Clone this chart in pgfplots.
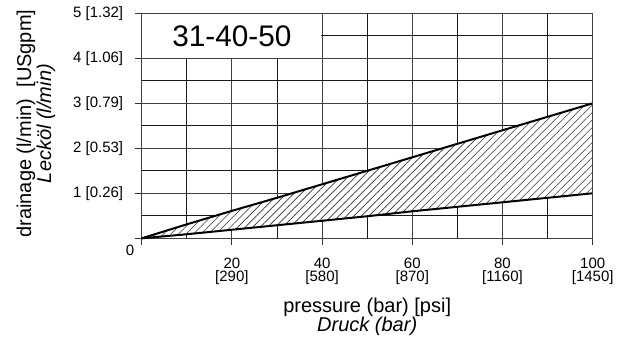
\documentclass[border=0pt]{standalone}
\usepackage{fontspec}
\setmainfont{Liberation Sans}
\usepackage{pgfplots}
\pgfplotsset{compat=1.18}
\usepgfplotslibrary{fillbetween}
\usetikzlibrary{patterns.meta}

\pgfplotstableread{
p    hi    lo
0    0.00  0.00
10   0.31  0.09
20   0.61  0.19
30   0.90  0.29
40   1.20  0.39
50   1.50  0.49
60   1.80  0.60
70   2.10  0.70
80   2.40  0.80
90   2.70  0.90
100  3.00  1.00
}\leakage

\begin{document}
\begin{tikzpicture}
\begin{axis}[
  at={(0pt,0pt)}, anchor=south west,
  scale only axis, width=451pt, height=225pt,
  clip=false,
  xmin=0, xmax=100, ymin=0, ymax=5,
  xtick={0,20,...,100}, minor xtick={10,30,50,70,90},
  ytick={0,1,...,5}, minor ytick={0.5,1.5,...,4.5},
  xticklabels={,{20\\{[290]}},{40\\{[580]}},{60\\{[870]}},{80\\{[1160]}},{100\\{[1450]}}},
  yticklabels={,1 [0.26],2 [0.53],3 [0.79],4 [1.06],5 [1.32]},
  tick pos=left, tick align=outside,
  major tick length=7pt, minor tick length=0pt,
  every tick/.style={black!80, line width=0.9pt},
  grid=both,
  major grid style={black!75, line width=0.95pt},
  minor grid style={black!90, line width=0.8pt},
  axis line style={black!75, line width=0.95pt},
  xticklabel style={align=center, yshift=-9pt, font=\fontsize{15}{13.5}\selectfont},
  yticklabel style={xshift=-8pt, font=\fontsize{15}{15}\selectfont},
  xlabel={pressure (bar) [psi]\\\textit{Druck (bar)}},
  xlabel style={at={(axis description cs:0.5,-0.35)}, anchor=center, align=center,
    font=\fontsize{20}{19}\selectfont},
  ylabel={drainage (l/min)\ \ [USgpm]\\\textit{Lecköl (l/min)}},
  ylabel style={at={(axis description cs:-0.2344,0.51)}, anchor=center, align=center,
    font=\fontsize{20}{20}\selectfont},
]
\addplot[name path=hi, draw=none, forget plot] table[x=p, y=hi] {\leakage};
\addplot[name path=lo, draw=none, forget plot] table[x=p, y=lo] {\leakage};
\addplot[fill=white, draw=none] fill between[of=hi and lo];
\addplot[pattern={Lines[angle=45, distance=5.3pt, line width=0.6pt]},
  pattern color=black!80, draw=none] fill between[of=hi and lo];
\addplot[black, line width=2pt] table[x=p, y=hi] {\leakage};
\addplot[black, line width=2pt] table[x=p, y=lo] {\leakage};

% blank title field in the upper-left corner of the grid
\fill[white] ([xshift=0.7pt,yshift=0.7pt]axis cs:0,4) rectangle ([xshift=-0.7pt,yshift=-0.7pt]axis cs:40,5);
\node[font=\fontsize{29.75}{30}\selectfont] at (axis cs:20,4.5) {31-40-50};
\draw[black!75, line width=0.95pt] (axis cs:100,0) -- (axis cs:100,5);
\node[font=\fontsize{15}{15}\selectfont] at ([xshift=-11.7pt,yshift=-11.7pt]axis cs:0,0) {0};
\end{axis}
\pgfresetboundingbox
\useasboundingbox (-141.7pt,-106.7pt) rectangle (488.3pt,238.3pt);
\end{tikzpicture}
\end{document}
